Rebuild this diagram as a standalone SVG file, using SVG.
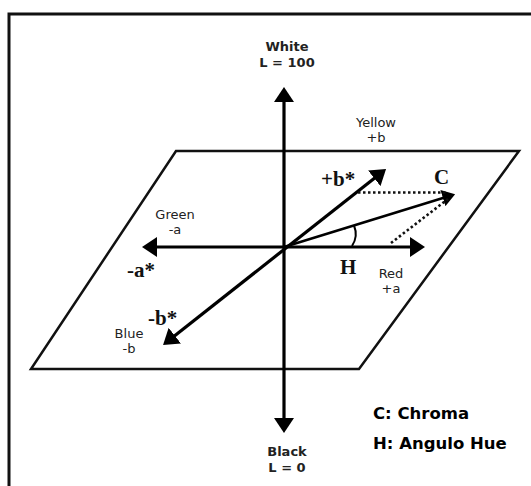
<svg xmlns="http://www.w3.org/2000/svg" width="531" height="486" viewBox="0 0 531 486">
<style>
.frame{fill:none;stroke:#111;stroke-width:3}
.plane{fill:none;stroke:#111;stroke-width:2.5;stroke-linejoin:miter}
.axis{fill:none;stroke:#000;stroke-width:3.2}
.vec{fill:none;stroke:#000;stroke-width:2.6}
.dot{fill:none;stroke:#111;stroke-width:2.6;stroke-dasharray:2.5 2.5}
.arc{fill:none;stroke:#000;stroke-width:2}
.lab{font-family:"DejaVu Sans",Verdana,sans-serif;font-size:13px;fill:#222;text-anchor:middle}
.lab2{font-family:"DejaVu Sans",Verdana,sans-serif;font-size:13px;font-weight:bold;fill:#222;text-anchor:middle}
.ser{font-family:"Liberation Serif","Times New Roman",serif;font-size:21px;font-weight:bold;fill:#111}
.leg{font-family:"DejaVu Sans",Verdana,sans-serif;font-size:16.5px;font-weight:bold;fill:#000}
</style>
<defs>
<marker id="ah" viewBox="0 0 15 20" refX="5" refY="10" markerWidth="15" markerHeight="20" markerUnits="userSpaceOnUse" orient="auto-start-reverse">
<path d="M0,0 L15,10 L0,20 z" fill="#000"/>
</marker>
<marker id="ahs" viewBox="0 0 15 20" refX="5" refY="10" markerWidth="13" markerHeight="17" markerUnits="userSpaceOnUse" orient="auto-start-reverse">
<path d="M0,0 L15,10 L0,20 z" fill="#000"/>
</marker>
</defs>
<rect width="531" height="486" fill="#fff"/>
<rect id="frame" class="frame" x="9" y="14" width="540" height="500"/>
<g id="plane"><path class="plane" d="M176,151 L519,151 L359,369 L31,369 Z"/></g>
<g id="connectors">
<line id="axis-L" class="axis" x1="284" y1="423" x2="284" y2="97" marker-start="url(#ah)" marker-end="url(#ah)"/>
<line id="axis-a" class="axis" x1="152" y1="247" x2="415" y2="247" marker-start="url(#ah)" marker-end="url(#ah)"/>
<line id="axis-b" class="axis" x1="170.9" y1="338.8" x2="378.2" y2="175.2" marker-start="url(#ah)" marker-end="url(#ah)"/>
<line id="chroma" class="vec" x1="284" y1="247" x2="447" y2="196.8" marker-end="url(#ahs)"/>
<line id="dot-h" class="dot" x1="358" y1="192.5" x2="446" y2="192.5"/>
<line id="dot-d" class="dot" x1="391" y1="243" x2="448" y2="199"/>
<path id="hue-arc" class="arc" d="M352,246 A22 22 0 0 0 354,225.5"/>
</g>
<g id="white"><text class="lab2" x="287" y="51">White</text><text class="lab2" x="287" y="67">L = 100</text></g>
<g id="black"><text class="lab2" x="287" y="456">Black</text><text class="lab2" x="287" y="472">L = 0</text></g>
<g id="yellow"><text class="lab" x="376" y="127">Yellow</text><text class="lab" x="376" y="142">+b</text></g>
<g id="green"><text class="lab" x="175" y="219">Green</text><text class="lab" x="175" y="234">-a</text></g>
<g id="red"><text class="lab" x="391" y="278">Red</text><text class="lab" x="391" y="293">+a</text></g>
<g id="blue"><text class="lab" x="129" y="338">Blue</text><text class="lab" x="129" y="353">-b</text></g>
<g id="symbols">
<text class="ser" x="321" y="186">+b*</text>
<text class="ser" x="434" y="184">C</text>
<text class="ser" x="340" y="274">H</text>
<text class="ser" x="127" y="277">-a*</text>
<text class="ser" x="148" y="325">-b*</text>
</g>
<g id="legend">
<text class="leg" x="373" y="419">C: Chroma</text>
<text class="leg" x="373" y="449">H: Angulo Hue</text>
</g>
</svg>
